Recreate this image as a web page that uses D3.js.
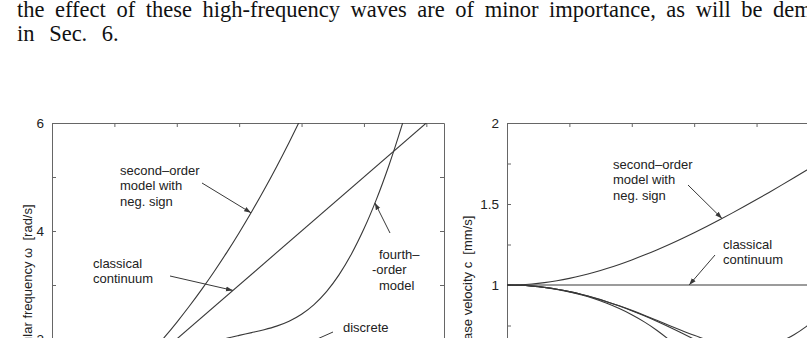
<!DOCTYPE html>
<html><head><meta charset="utf-8">
<script src="https://cdn.jsdelivr.net/npm/d3@7"></script>
<style>body{margin:0;background:#fff}svg{display:block}</style>
</head><body>
<svg id="c" width="807" height="338"></svg>
<script>
// ---- data ----
const waveNumber = [0,0.1,0.2,0.3,0.4,0.5,0.6,0.7,0.8,0.9,1.0,1.1,1.2,1.3,1.4,1.5,1.6,1.7,1.8,1.9,2.0,2.1,2.2,2.3,2.4,2.5,2.6,2.7,2.8,2.9,3.0,3.1416];
const waveNumberPos = [0,0.1,0.2,0.3,0.4,0.5,0.6,0.7,0.8,0.9,1.0,1.1,1.2,1.3,1.4,1.5,1.6,1.7,1.7321];
const waveNumberClassical = [0,3.1416];

// left panel: angular frequency
const omegaClassical = [0,6.2832];
const omegaNeg = [0,0.2003,0.4026,0.6089,0.8210,1.0408,1.2700,1.5100,1.7624,2.0284,2.3094,2.6061,2.9198,3.2508,3.6002,3.9687,4.3565,4.7641,5.1919,5.6407,6.1101,6.6007,7.1130,7.6466,8.2022,8.7795,9.3792,10.0008,10.6450,11.3112,12.0000,13.0135];
const omegaFourth = [0,0.1997,0.3973,0.5910,0.7789,0.9589,1.1294,1.2887,1.4354,1.5683,1.6865,1.7896,1.8778,1.9519,2.0141,2.0676,2.1177,2.1714,2.2383,2.3297,2.4586,2.6375,2.8779,3.1883,3.5745,4.0398,4.5857,5.2131,5.9225,6.7143,7.5895,8.9730];
const omegaDiscrete = [0,0.1997,0.3973,0.5910,0.7788,0.9589,1.1293,1.2884,1.4347,1.5667,1.6829,1.7824,1.8641,1.9271,1.9709,1.9950,1.9991,1.9833,1.9477,1.8926,1.8186,1.7264,1.6170,1.4914,1.3509,1.1969,1.0310,0.8548,0.6700,0.4785,0.2822,0];
const omegaPos = [0,0.1997,0.3973,0.5909,0.7784,0.9574,1.1257,1.2806,1.4191,1.5379,1.6330,1.6994,1.7307,1.7181,1.6486,1.5000,1.2255,0.6511,0];

// right panel: phase velocity
const cClassical = [1,1];
const cNeg = [1,1.0017,1.0066,1.0149,1.0263,1.0408,1.0583,1.0786,1.1015,1.1269,1.1547,1.1846,1.2166,1.2503,1.2858,1.3229,1.3614,1.4012,1.4422,1.4844,1.5275,1.5716,1.6166,1.6623,1.7088,1.7559,1.8037,1.8520,1.9009,1.9502,2.0000,2.0712];
const cFourth = [1,0.9983,0.9934,0.9851,0.9736,0.9589,0.9412,0.9205,0.8972,0.8713,0.8433,0.8135,0.7824,0.7507,0.7193,0.6892,0.6618,0.6387,0.6217,0.6131,0.6146,0.6280,0.6541,0.6931,0.7447,0.8080,0.8819,0.9654,1.0576,1.1576,1.2649,1.4281];
const cDiscrete = [1,0.9983,0.9933,0.9851,0.9736,0.9589,0.9411,0.9203,0.8967,0.8704,0.8415,0.8102,0.7767,0.7412,0.7039,0.6650,0.6247,0.5833,0.5410,0.4981,0.4546,0.4110,0.3675,0.3242,0.2814,0.2394,0.1983,0.1583,0.1196,0.0825,0.0470,0];
const cPos = [1,0.9983,0.9933,0.9849,0.9730,0.9574,0.9381,0.9147,0.8869,0.8544,0.8165,0.7724,0.7211,0.6608,0.5888,0.5000,0.3830,0.1915,0];

const xTicks = [0,0.5,1,1.5,2,2.5,3];
const omegaTicks = [0,1,2,3,4,5,6];
const omegaTickLabels = ["0","","2","","4","","6"];
const cTicks = [0,0.25,0.5,0.75,1,1.25,1.5,1.75,2];
const cTickLabels = ["0","","0.5","","1","","1.5","","2"];

const textLine1 = ["the","effect","of","these","high-frequency","waves","are","of","minor","importance,","as","will","be","demonstrated"];
const textLine2 = "in Sec. 6.";

// ---- drawing ----
const svg = d3.select("#c");
const SANS = "'Liberation Sans', Arial, Helvetica, sans-serif";
const SERIF = "'Liberation Serif','Times New Roman',serif";
const INK = "#383838", FRAME = "#666";
const PFS = 22.5;

// paragraph text
const para = svg.append("text").attr("x",17).attr("y",17)
  .attr("font-family",SERIF).attr("font-size",PFS).attr("fill","#111")
  .text(textLine1.join(" "));
// justify: put the last (cut) word at x≈773
{
  const mk = s => svg.append("text").attr("font-family",SERIF).attr("font-size",PFS).text(s);
  const probe = mk(textLine1.slice(0,-1).join(""));
  const wordsLen = probe.node().getComputedTextLength();
  const sp = mk("a a"), a = mk("aa");
  const spaceW = sp.node().getComputedTextLength() - a.node().getComputedTextLength();
  probe.remove(); sp.remove(); a.remove();
  const n = textLine1.length - 1;
  const need = (773 - 17 - wordsLen) / n;
  para.attr("word-spacing", need - spaceW);
}
svg.append("text").attr("x",17).attr("y",41)
  .attr("font-family",SERIF).attr("font-size",PFS).attr("fill","#111")
  .attr("word-spacing",9).text(textLine2);

const defs = svg.append("defs");
defs.append("marker").attr("id","ah").attr("viewBox","0 0 10 10").attr("refX",10).attr("refY",5)
  .attr("markerWidth",7).attr("markerHeight",7).attr("markerUnits","userSpaceOnUse").attr("orient","auto")
  .append("path").attr("d","M0,1.5 L10,5 L0,8.5 Z").attr("fill",INK);

function panel(opts){
  const {x0,x1,y0,y1,ymax,yTicks,yLabels,series,title,titleX,id,rightAxis} = opts;
  const x = d3.scaleLinear().domain([0,Math.PI]).range([x0,x1]);
  const y = d3.scaleLinear().domain([0,ymax]).range([y1,y0]);
  defs.append("clipPath").attr("id",id).append("rect")
    .attr("x",x0).attr("y",y0).attr("width",x1-x0).attr("height",y1-y0);
  const g = svg.append("g");
  const top = g.append("g").attr("transform",`translate(0,${y0})`)
    .call(d3.axisTop(x).tickValues(xTicks).tickSizeInner(-4).tickSizeOuter(0).tickFormat(""));
  const left = g.append("g").attr("transform",`translate(${x0},0)`)
    .call(d3.axisLeft(y).tickValues(yTicks).tickSizeInner(-4).tickSizeOuter(0).tickPadding(8)
      .tickFormat((d,i)=>yLabels[i]));
  const axes=[top,left];
  if(rightAxis){
    axes.push(g.append("g").attr("transform",`translate(${x1},0)`)
      .call(d3.axisRight(y).tickValues(yTicks).tickSizeInner(-4).tickSizeOuter(0).tickFormat("")));
  }
  axes.forEach(a=>{
    a.selectAll("path,line").attr("stroke",FRAME).attr("stroke-width",1);
    a.selectAll("text").attr("font-family",SANS).attr("font-size",13.5).attr("fill","#222");
  });
  const line = d3.line().x(d=>x(d[0])).y(d=>y(d[1])).curve(d3.curveCatmullRom);
  const cg = g.append("g").attr("clip-path",`url(#${id})`);
  series.forEach(s=>{
    cg.append("path").datum(s.k.map((kk,i)=>[kk,s.v[i]]))
      .attr("d",line).attr("fill","none").attr("stroke",INK).attr("stroke-width",1.1);
  });
  svg.append("text").attr("transform",`translate(${titleX},${(y0+y1)/2}) rotate(-90)`)
    .attr("text-anchor","middle").attr("dy","0.35em").attr("font-family",SANS).attr("font-size",13)
    .attr("fill","#222").style("white-space","pre").text(title);
  return {x,y};
}

const L = panel({x0:52,x1:444,y0:123,y1:447,ymax:6,yTicks:omegaTicks,yLabels:omegaTickLabels,id:"clipL",rightAxis:true,
  title:"angular frequency ω  [rad/s]",titleX:27,
  series:[{k:waveNumberClassical,v:omegaClassical},{k:waveNumber,v:omegaNeg},{k:waveNumber,v:omegaFourth},
          {k:waveNumber,v:omegaDiscrete},{k:waveNumberPos,v:omegaPos}]});
const R = panel({x0:507,x1:899,y0:123,y1:447,ymax:2,yTicks:cTicks,yLabels:cTickLabels,id:"clipR",rightAxis:true,
  title:"phase velocity c  [mm/s]",titleX:467,
  series:[{k:waveNumberClassical,v:cClassical},{k:waveNumber,v:cNeg},{k:waveNumber,v:cFourth},
          {k:waveNumber,v:cDiscrete},{k:waveNumberPos,v:cPos}]});

function label(x, y0, lines){
  const t = svg.append("text").attr("font-family",SANS).attr("font-size",13).attr("fill","#222");
  lines.forEach((s,i)=>{
    const o = typeof s === "string" ? {t:s,dx:0} : s;
    t.append("tspan").attr("x",x+o.dx).attr("y",y0+i*15.3).text(o.t);
  });
}
function arrow(x1,y1,x2,y2){
  svg.append("line").attr("x1",x1).attr("y1",y1).attr("x2",x2).attr("y2",y2)
    .attr("stroke",INK).attr("stroke-width",1).attr("marker-end","url(#ah)");
}
label(120,175,["second–order","model with","neg. sign"]);
arrow(202,183, L.x(1.595), L.y(4.336));
label(93,268,["classical","continuum"]);
arrow(170,276, L.x(1.45), L.y(2.90));
label(379,259,["fourth–",{t:"-order",dx:-7},"model"]);
arrow(390,233, L.x(2.588), L.y(4.52));
label(343,332,["discrete","model"]);
arrow(333,332, L.x(1.97), L.y(1.84));

label(613,169,["second–order","model with","neg. sign"]);
arrow(688,185, R.x(1.723), R.y(1.4105));
label(723,249,["classical","continuum"]);
arrow(715,255, R.x(1.46), R.y(1));
</script>
</body></html>
